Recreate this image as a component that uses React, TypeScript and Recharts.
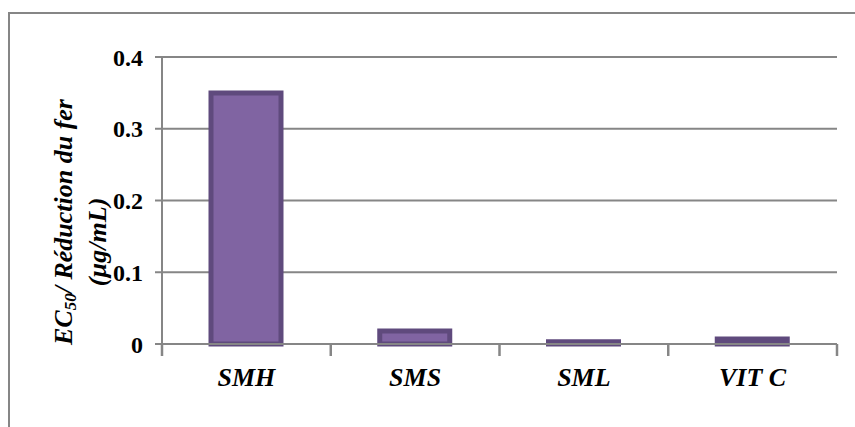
import React from 'react';
import { BarChart, Bar, XAxis, YAxis, CartesianGrid } from 'recharts';

const categories = ['SMH', 'SMS', 'SML', 'VIT C'];
const ec50Values = [0.35, 0.018, 0.003, 0.007];
const yTicks = [0, 0.1, 0.2, 0.3, 0.4];

const data = categories.map((name, i) => ({ name, value: ec50Values[i] }));

const GRAY = '#868686';
const FONT = '"Liberation Serif", "Times New Roman", serif';
const X_TICK_MARGIN = 24;
const BOUNDARY_TICK = 12;

const CategoryTick = (props: any) => {
  const { x, y, payload, index, visibleTicksCount } = props;
  const half = payload && payload.offset ? payload.offset : 0;
  const axisY = y - X_TICK_MARGIN;
  const isLast = index === visibleTicksCount - 1;
  return (
    <g>
      <line
        x1={x - half}
        x2={x - half}
        y1={axisY}
        y2={axisY + BOUNDARY_TICK}
        stroke={GRAY}
        strokeWidth={2.5}
      />
      {isLast ? (
        <line
          x1={x + half}
          x2={x + half}
          y1={axisY}
          y2={axisY + BOUNDARY_TICK}
          stroke={GRAY}
          strokeWidth={2.5}
        />
      ) : null}
      <text
        x={x}
        y={y}
        dy="0.71em"
        textAnchor="middle"
        fill="#000"
        fontFamily={FONT}
        fontWeight="bold"
        fontStyle="italic"
        fontSize={26}
      >
        {payload.value}
      </text>
    </g>
  );
};

const YLabel = () => (
  <g>
    <text
      transform="translate(63,222) rotate(-90)"
      textAnchor="middle"
      dominantBaseline="central"
      fontFamily={FONT}
      fontWeight="bold"
      fontStyle="italic"
      fontSize={26}
      fill="#000"
    >
      EC<tspan fontSize={17} dy={7}>50</tspan>
      <tspan dy={-7}>/ Réduction du fer</tspan>
    </text>
    <text
      transform="translate(97,242) rotate(-90)"
      textAnchor="middle"
      dominantBaseline="central"
      fontFamily={FONT}
      fontWeight="bold"
      fontStyle="italic"
      fontSize={26}
      fill="#000"
    >
      (µg/mL)
    </text>
  </g>
);

export default function App() {
  return (
    <div
      style={{
        position: 'absolute',
        left: 0,
        top: 0,
        width: 855,
        height: 427,
        overflow: 'hidden',
        background: '#fff',
      }}
    >
      <div
        style={{
          position: 'absolute',
          left: 8,
          top: 12,
          width: 900,
          height: 500,
          borderLeft: `2px solid ${GRAY}`,
          borderTop: `2px solid ${GRAY}`,
          boxSizing: 'border-box',
        }}
      >
        <div style={{ position: 'absolute', left: -10, top: -14 }}>
          <BarChart
            width={855}
            height={427}
            data={data}
            margin={{ top: 57, right: 18, bottom: 82, left: 0 }}
          >
            <CartesianGrid
              horizontal
              vertical={false}
              stroke={GRAY}
              strokeWidth={2}
            />
            <XAxis
              dataKey="name"
              height={1}
              axisLine={{ stroke: GRAY, strokeWidth: 2 }}
              tickLine={false}
              tickSize={0}
              tickMargin={X_TICK_MARGIN}
              interval={0}
              tick={<CategoryTick />}
            />
            <YAxis
              width={162}
              domain={[0, 0.4]}
              ticks={yTicks}
              interval={0}
              axisLine={{ stroke: GRAY, strokeWidth: 2 }}
              tickLine={{ stroke: GRAY, strokeWidth: 2 }}
              tickSize={7}
              tickMargin={12}
              tick={{
                fill: '#000',
                fontFamily: FONT,
                fontWeight: 'bold',
                fontSize: 24,
              }}
              label={<YLabel />}
            />
            <Bar
              dataKey="value"
              barSize={70}
              fill="#8064a2"
              stroke="#5f4a7d"
              strokeWidth={5}
              isAnimationActive={false}
            />
          </BarChart>
        </div>
      </div>
    </div>
  );
}
